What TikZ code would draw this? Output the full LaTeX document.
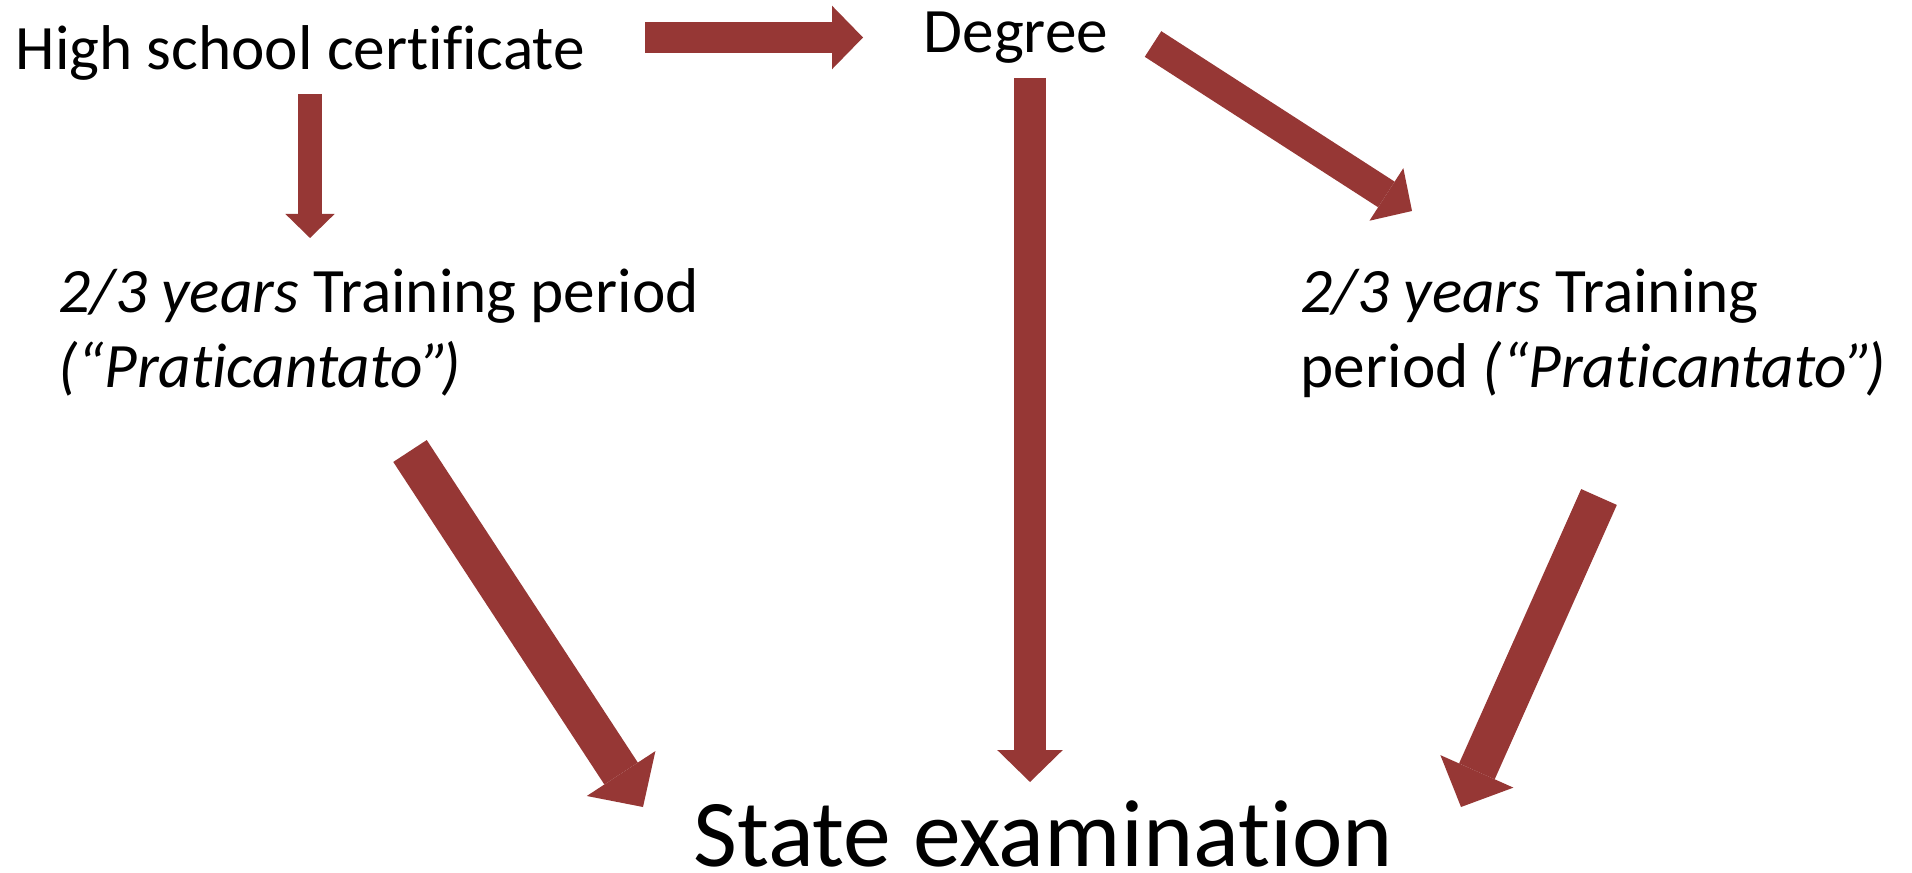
\documentclass[tikz,border=0pt]{standalone}
\usepackage{fontspec}
\setmainfont{Carlito}[Ligatures={TeX,NoCommon}]
\usetikzlibrary{arrows.meta}
\definecolor{arrowred}{RGB}{150,55,53}
\begin{document}
\begin{tikzpicture}[flow/.style={draw=arrowred,line width=#1,-{Triangle[length=0pt 1,width=0pt 2.05,line width=0pt]}},
    txt/.style={anchor=base west,inner sep=0pt,align=left,font=\fontsize{18}{21.6}\selectfont}]
    \useasboundingbox (0,0) rectangle (19.12,-8.73);
    \node[txt] (school) at (0.15,-0.70) {High school certificate};
    \node[txt] (degree) at (9.23,-0.53) {Degree};
    \node[txt] (trainL) at (0.58,-3.88) {\textit{2/3 years} Training period\\\textit{(“Praticantato”\kern-0.12em)}};
    \node[txt] (trainR) at (13.00,-3.88) {\textit{2/3 years} Training\\period \textit{(“Praticantato”\kern-0.12em)}};
    \node[txt,anchor=base,text depth=0pt,font=\fontsize{27.2}{32}\selectfont] (exam) at (10.43,-8.66) {State examination};
    \coordinate (school-r) at (6.45,-0.375);
    \coordinate (degree-l) at (8.63,-0.375);
    \coordinate (school-b) at (3.10,-0.94);
    \coordinate (trainL-t) at (3.10,-2.38);
    \coordinate (degree-r) at (11.53,-0.44);
    \coordinate (trainR-t) at (14.12,-2.11);
    \coordinate (degree-b) at (10.30,-0.78);
    \coordinate (exam-t) at (10.30,-7.82);
    \coordinate (trainL-b) at (4.10,-4.51);
    \coordinate (exam-l) at (6.43,-8.07);
    \coordinate (trainR-b) at (15.99,-4.97);
    \coordinate (exam-r) at (14.61,-8.07);
    \draw[flow=0.31cm] (school-r)--(degree-l);
    \draw[flow=0.24cm] (school-b)--(trainL-t);
    \draw[flow=0.305cm] (degree-r)--(trainR-t);
    \draw[flow=0.32cm] (degree-b)--(exam-t);
    \draw[flow=0.40cm] (trainL-b)--(exam-l);
    \draw[flow=0.39cm] (trainR-b)--(exam-r);
\end{tikzpicture}
\end{document}
